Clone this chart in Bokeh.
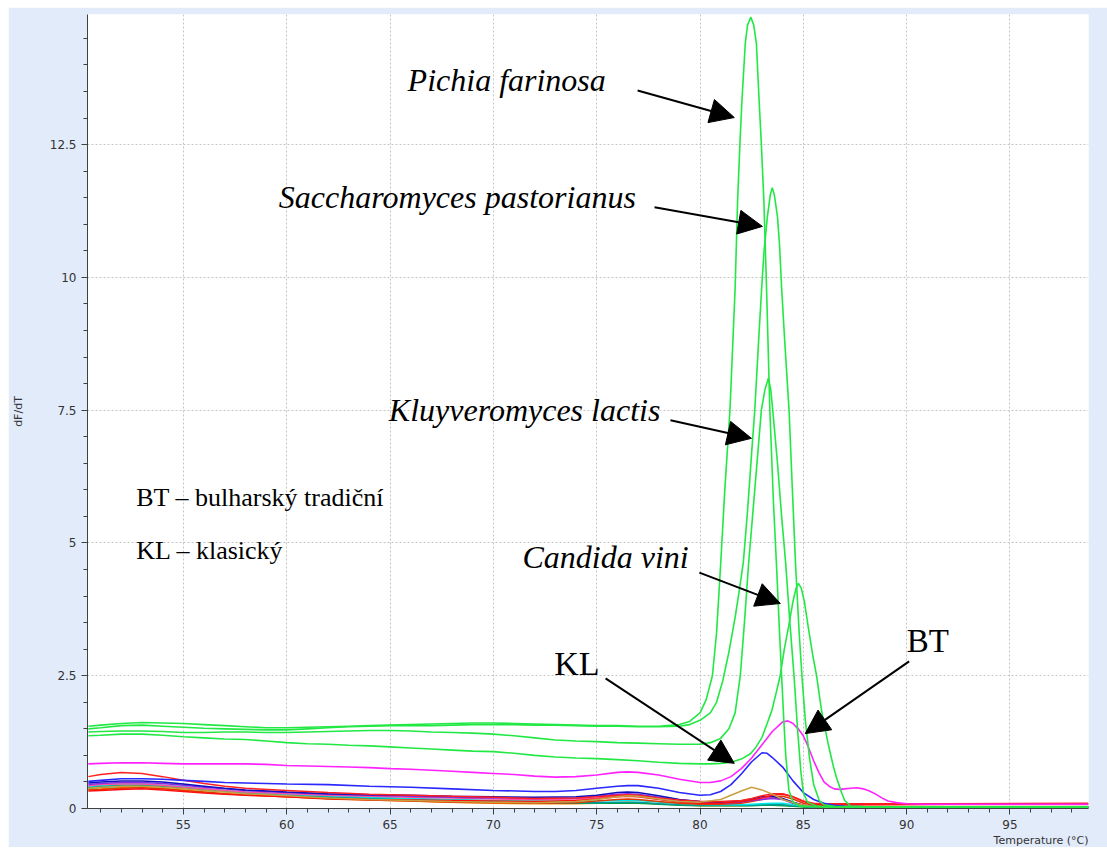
from bokeh.plotting import figure
from bokeh.models import (Range1d, FixedTicker, CustomJSTickFormatter, Label,
                          Arrow, NormalHead, Title, Spacer)
from bokeh.layouts import column, row
from bokeh.embed import file_html
from bokeh.resources import INLINE

# ---------------- melting curves (temperature in degC, dF/dT) ----------------

# Pichia farinosa
pichia_t = [50.4, 51, 52, 53, 54, 55, 56, 57, 58, 59, 60, 61, 62, 63, 64, 65, 66, 67, 68, 69,
            70, 71, 72, 73, 74, 75, 76, 77, 78, 79, 79.5, 80, 80.3, 80.6, 80.8, 81.0, 81.2,
            81.45, 81.7, 81.82, 81.93, 82.03, 82.19, 82.3, 82.46, 82.6, 82.73, 82.86, 82.97,
            83.09, 83.22, 83.38, 83.55, 83.7, 83.85, 83.95, 84.05, 84.15, 84.3, 84.5, 84.8,
            85.5, 88, 92, 98.8]
pichia_v = [1.55, 1.57, 1.60, 1.62, 1.61, 1.60, 1.58, 1.56, 1.54, 1.52, 1.52, 1.53, 1.54, 1.55,
            1.56, 1.57, 1.58, 1.59, 1.60, 1.61, 1.61, 1.60, 1.59, 1.58, 1.57, 1.56, 1.56, 1.55,
            1.55, 1.58, 1.64, 1.80, 2.05, 2.50, 3.30, 4.60, 6.00, 7.50, 9.80, 11.45, 12.50,
            13.33, 14.40, 14.75, 14.90, 14.75, 14.40, 13.33, 12.50, 11.45, 9.80, 7.50, 5.80,
            4.60, 3.30, 2.50, 1.70, 1.00, 0.35, 0.12, 0.05, 0.03, 0.03, 0.03, 0.03]

# Saccharomyces pastorianus
sacch_t = [50.4, 51, 52, 53, 54, 55, 56, 57, 58, 59, 60, 61, 62, 63, 64, 65, 66, 67, 68, 69,
           70, 71, 72, 73, 74, 75, 76, 77, 78, 79, 79.5, 80, 80.5, 80.8, 81.1, 81.4, 81.7,
           81.9, 82.1, 82.3, 82.5, 82.65, 82.85, 83.0, 83.1, 83.26, 83.4, 83.5, 83.6, 83.75,
           83.85, 83.95, 84.1, 84.31, 84.47, 84.63, 84.8, 84.95, 85.1, 85.3, 85.5, 85.77, 86.0,
           86.5, 88, 92, 98.8]
sacch_v = [1.50, 1.52, 1.56, 1.57, 1.55, 1.53, 1.51, 1.50, 1.49, 1.48, 1.48, 1.50, 1.52, 1.54,
           1.55, 1.56, 1.56, 1.56, 1.57, 1.58, 1.58, 1.58, 1.57, 1.57, 1.56, 1.55, 1.55, 1.54,
           1.54, 1.55, 1.58, 1.66, 1.80, 2.00, 2.40, 2.95, 3.60, 4.10, 4.65, 5.60, 6.70, 7.50,
           8.90, 9.90, 10.50, 11.14, 11.55, 11.69, 11.55, 11.14, 10.60, 9.80, 8.80, 7.50, 6.00,
           4.55, 3.30, 2.40, 1.65, 0.95, 0.45, 0.15, 0.07, 0.04, 0.03, 0.03, 0.03]

# Kluyveromyces lactis
kluyv_t = [50.4, 51, 52, 53, 54, 55, 56, 57, 58, 59, 60, 61, 62, 63, 64, 65, 66, 67, 68, 69,
           70, 71, 72, 73, 74, 75, 76, 77, 78, 79, 80, 80.5, 81.0, 81.4, 81.7, 81.95, 82.15,
           82.35, 82.65, 82.97, 83.15, 83.31, 83.42, 83.52, 83.75, 83.95, 84.15, 84.35, 84.55,
           84.72, 84.88, 85.0, 85.2, 85.6, 86, 88, 92, 98.8]
kluyv_v = [1.44, 1.45, 1.46, 1.46, 1.45, 1.43, 1.43, 1.44, 1.44, 1.43, 1.43, 1.44, 1.45, 1.46,
           1.47, 1.47, 1.46, 1.44, 1.43, 1.42, 1.40, 1.37, 1.33, 1.29, 1.27, 1.26, 1.24, 1.23,
           1.22, 1.21, 1.21, 1.24, 1.32, 1.50, 1.80, 2.50, 3.50, 4.60, 6.00, 7.50, 7.90, 8.10,
           7.90, 7.50, 6.50, 5.50, 4.60, 3.50, 2.50, 1.50, 0.70, 0.30, 0.12, 0.05, 0.03, 0.03,
           0.03, 0.03]

# Candida vini
candida_t = [50.4, 51, 52, 53, 54, 55, 56, 57, 58, 59, 60, 61, 62, 63, 64, 65, 66, 67, 68, 69,
             70, 71, 72, 73, 74, 75, 76, 77, 78, 79, 80, 80.5, 81, 81.5, 82.0, 82.44, 82.7,
             83.0, 83.25, 83.48, 83.7, 83.88, 84.08, 84.28, 84.5, 84.65, 84.76, 84.9, 85.05,
             85.24, 85.45, 85.64, 85.88, 86.2, 86.45, 86.6, 86.85, 87.0, 87.3, 88, 92, 98.8]
candida_v = [1.37, 1.38, 1.40, 1.40, 1.38, 1.35, 1.33, 1.31, 1.30, 1.27, 1.24, 1.22, 1.21,
             1.19, 1.18, 1.16, 1.14, 1.12, 1.10, 1.08, 1.07, 1.04, 1.00, 0.97, 0.95, 0.94,
             0.92, 0.90, 0.87, 0.85, 0.84, 0.84, 0.85, 0.87, 0.93, 1.03, 1.15, 1.34, 1.60,
             1.85, 2.20, 2.50, 3.00, 3.41, 3.90, 4.15, 4.24, 4.15, 3.90, 3.41, 2.90, 2.50,
             1.85, 1.22, 0.80, 0.59, 0.30, 0.15, 0.04, 0.03, 0.03, 0.03]

# BT sample (bulharsky tradicni)
bt_t = [50.4, 51, 52, 53, 54, 55, 56, 57, 58, 59, 60, 61, 62, 63, 64, 65, 66, 67, 68, 69, 70,
        71, 72, 73, 74, 75, 76, 76.5, 77, 78, 79, 80, 80.5, 81, 81.5, 82, 82.5, 83, 83.5, 84,
        84.25, 84.5, 84.75, 85, 85.25, 85.5, 85.75, 86, 86.25, 86.5, 86.75, 87, 87.3, 87.6,
        87.9, 88.2, 88.5, 88.8, 89.1, 89.5, 90, 91, 92, 94, 96, 98.8]
bt_v = [0.84, 0.85, 0.86, 0.86, 0.85, 0.84, 0.84, 0.84, 0.84, 0.83, 0.81, 0.80, 0.79, 0.78,
        0.77, 0.75, 0.74, 0.72, 0.70, 0.68, 0.66, 0.64, 0.61, 0.59, 0.60, 0.63, 0.68, 0.69,
        0.68, 0.63, 0.55, 0.49, 0.49, 0.52, 0.60, 0.75, 0.95, 1.20, 1.45, 1.63, 1.65, 1.60,
        1.50, 1.37, 1.15, 0.90, 0.68, 0.50, 0.42, 0.37, 0.36, 0.37, 0.38, 0.39, 0.37, 0.33,
        0.27, 0.20, 0.14, 0.11, 0.09, 0.08, 0.08, 0.08, 0.08, 0.08]

# KL sample (klasicky)
kl_t = [50.4, 51, 52, 53, 54, 55, 56, 57, 58, 59, 60, 62, 64, 65, 66, 68, 70, 72, 73, 74, 75,
        76, 76.5, 77, 78, 79, 80, 80.5, 81, 81.5, 82, 82.5, 83, 83.25, 83.5, 84, 84.5, 85,
        85.5, 86, 86.5, 87, 88, 92, 98.8]
kl_v = [0.51, 0.53, 0.56, 0.56, 0.55, 0.53, 0.51, 0.49, 0.48, 0.47, 0.46, 0.45, 0.42, 0.41,
        0.40, 0.37, 0.34, 0.32, 0.32, 0.34, 0.38, 0.42, 0.43, 0.43, 0.38, 0.30, 0.25, 0.26,
        0.32, 0.45, 0.65, 0.88, 1.05, 1.04, 0.96, 0.78, 0.52, 0.30, 0.17, 0.10, 0.06, 0.04,
        0.03, 0.03, 0.03]

# remaining low samples, all read on one temperature grid
low_t = [50.4, 51, 52, 53, 54, 55, 56, 57, 58, 60, 62, 64, 66, 68, 70, 72, 74, 75, 76, 76.5,
         77, 78, 79, 80, 81, 82, 82.5, 83, 83.5, 84, 84.5, 85, 85.5, 86, 88, 92, 98.8]
gold_v = [0.38, 0.40, 0.42, 0.42, 0.40, 0.37, 0.34, 0.31, 0.28, 0.24, 0.20, 0.17, 0.15, 0.13,
          0.12, 0.11, 0.13, 0.17, 0.22, 0.24, 0.23, 0.18, 0.13, 0.12, 0.17, 0.33, 0.40, 0.35,
          0.27, 0.17, 0.11, 0.06, 0.04, 0.03, 0.02, 0.02, 0.02]
red_a_v = [0.60, 0.64, 0.68, 0.66, 0.60, 0.53, 0.47, 0.42, 0.38, 0.34, 0.30, 0.27, 0.25, 0.23,
           0.21, 0.19, 0.20, 0.22, 0.25, 0.26, 0.25, 0.20, 0.16, 0.13, 0.13, 0.15, 0.19, 0.24,
           0.28, 0.28, 0.22, 0.14, 0.10, 0.09, 0.09, 0.09, 0.10]
red_b_v = [0.33, 0.34, 0.36, 0.37, 0.35, 0.32, 0.29, 0.27, 0.25, 0.22, 0.19, 0.17, 0.16, 0.15,
           0.14, 0.13, 0.15, 0.18, 0.22, 0.23, 0.22, 0.17, 0.12, 0.10, 0.10, 0.13, 0.16, 0.20,
           0.25, 0.27, 0.22, 0.13, 0.08, 0.07, 0.07, 0.08, 0.08]
red_c_v = [0.35, 0.36, 0.38, 0.39, 0.37, 0.34, 0.31, 0.28, 0.26, 0.22, 0.18, 0.16, 0.14, 0.12,
           0.11, 0.10, 0.11, 0.14, 0.17, 0.18, 0.17, 0.13, 0.10, 0.08, 0.08, 0.10, 0.13, 0.17,
           0.21, 0.23, 0.18, 0.10, 0.06, 0.05, 0.04, 0.04, 0.04]
navy_v = [0.48, 0.50, 0.52, 0.52, 0.50, 0.46, 0.42, 0.38, 0.35, 0.31, 0.28, 0.26, 0.25, 0.23,
          0.22, 0.21, 0.22, 0.25, 0.30, 0.31, 0.30, 0.24, 0.17, 0.13, 0.12, 0.14, 0.18, 0.22,
          0.23, 0.19, 0.12, 0.06, 0.04, 0.03, 0.02, 0.02, 0.02]
purple_v = [0.45, 0.47, 0.49, 0.49, 0.47, 0.44, 0.40, 0.37, 0.34, 0.30, 0.27, 0.25, 0.23, 0.21,
            0.20, 0.19, 0.20, 0.23, 0.27, 0.28, 0.27, 0.21, 0.15, 0.11, 0.10, 0.12, 0.15, 0.17,
            0.19, 0.17, 0.10, 0.05, 0.03, 0.03, 0.02, 0.02, 0.02]
cyan_v = [0.42, 0.44, 0.46, 0.46, 0.44, 0.41, 0.37, 0.34, 0.31, 0.27, 0.24, 0.21, 0.19, 0.17,
          0.15, 0.14, 0.13, 0.14, 0.15, 0.16, 0.15, 0.12, 0.10, 0.08, 0.07, 0.07, 0.08, 0.09,
          0.10, 0.10, 0.07, 0.05, 0.03, 0.03, 0.02, 0.02, 0.02]
teal_v = [0.40, 0.42, 0.44, 0.45, 0.43, 0.40, 0.36, 0.33, 0.30, 0.26, 0.22, 0.20, 0.18, 0.16,
          0.14, 0.12, 0.11, 0.11, 0.12, 0.12, 0.12, 0.09, 0.07, 0.06, 0.06, 0.06, 0.06, 0.07,
          0.07, 0.07, 0.05, 0.04, 0.03, 0.02, 0.02, 0.02, 0.02]
dkgreen_v = [0.38, 0.40, 0.42, 0.43, 0.42, 0.39, 0.35, 0.32, 0.29, 0.25, 0.21, 0.18, 0.16,
             0.14, 0.12, 0.11, 0.10, 0.10, 0.10, 0.10, 0.10, 0.08, 0.06, 0.05, 0.05, 0.05,
             0.05, 0.06, 0.06, 0.05, 0.04, 0.03, 0.02, 0.02, 0.02, 0.02, 0.02]
orange_v = [0.36, 0.37, 0.39, 0.40, 0.38, 0.35, 0.31, 0.28, 0.26, 0.22, 0.19, 0.16, 0.14, 0.12,
            0.10, 0.09, 0.09, 0.10, 0.11, 0.12, 0.11, 0.09, 0.07, 0.05, 0.05, 0.05, 0.06, 0.07,
            0.08, 0.08, 0.06, 0.04, 0.03, 0.02, 0.02, 0.02, 0.02]
pink_v = [0.43, 0.45, 0.46, 0.46, 0.44, 0.40, 0.37, 0.34, 0.31, 0.28, 0.25, 0.23, 0.21, 0.20,
          0.18, 0.17, 0.18, 0.20, 0.24, 0.25, 0.24, 0.20, 0.16, 0.13, 0.12, 0.13, 0.16, 0.19,
          0.21, 0.18, 0.12, 0.06, 0.04, 0.03, 0.03, 0.03, 0.03]

x_major = [55, 60, 65, 70, 75, 80, 85, 90, 95]
y_major = [0, 2.5, 5, 7.5, 10, 12.5]

PANEL = "#E2EBFA"
GREEN = "#22E844"

p = figure(width=1099, height=840, output_backend="svg", toolbar_location=None,
           x_range=Range1d(50.36, 98.8), y_range=Range1d(0, 14.95),
           min_border_left=76, min_border_right=19, min_border_top=7, min_border_bottom=39,
           background_fill_color="white", border_fill_color=PANEL)
p.outline_line_color = None

# axes
p.xaxis.ticker = FixedTicker(ticks=x_major, minor_ticks=list(range(51, 99)))
p.yaxis.ticker = FixedTicker(ticks=y_major, minor_ticks=[i * 0.5 for i in range(0, 30)])
p.yaxis.formatter = CustomJSTickFormatter(code="return String(tick);")
for ax in (p.xaxis, p.yaxis):
    ax.axis_line_color = "#404040"
    ax.major_tick_line_color = "#404040"
    ax.minor_tick_line_color = "#404040"
    ax.major_tick_in = 0
    ax.minor_tick_in = 0
    ax.major_tick_out = 6
    ax.minor_tick_out = 4
    ax.major_label_text_font = "DejaVu Sans"
    ax.major_label_text_font_size = "12px"
    ax.major_label_text_color = "#333333"
    ax.major_label_standoff = 5
p.yaxis.axis_label = "dF/dT"
p.yaxis.axis_label_text_font = "DejaVu Sans"
p.yaxis.axis_label_text_font_size = "11px"
p.yaxis.axis_label_text_font_style = "normal"
p.yaxis.axis_label_text_color = "#333333"
p.yaxis.axis_label_standoff = 22

p.add_layout(Title(text="Temperature (°C)", align="right", text_font="DejaVu Sans",
                   text_font_size="11px", text_font_style="normal",
                   text_color="#333333", standoff=0), "below")

# grid
p.xgrid.ticker = FixedTicker(ticks=x_major)
p.ygrid.ticker = FixedTicker(ticks=y_major[1:])
for g in (p.xgrid, p.ygrid):
    g.grid_line_color = "#C4C4C4"
    g.grid_line_dash = "2 2"
    g.grid_line_width = 1

# low samples first, then the labelled ones on top
low_series = [
    (orange_v, "#FF8C00"), (dkgreen_v, "#00A040"), (teal_v, "#009999"),
    (cyan_v, "#00E5E5"), (red_c_v, "#E03A00"), (pink_v, "#FF4FA0"),
    (purple_v, "#8A2BE2"), (navy_v, "#1010C0"), (red_b_v, "#FF1010"),
    (red_a_v, "#FF2020"), (gold_v, "#C9A040"),
]
for vals, col in low_series:
    p.line(low_t, vals, line_color=col, line_width=1.5)

p.line(kl_t, kl_v, line_color="#2828FF", line_width=1.6)
p.line(bt_t, bt_v, line_color="#FF22FF", line_width=1.6)
for t, v in ((candida_t, candida_v), (kluyv_t, kluyv_v), (sacch_t, sacch_v), (pichia_t, pichia_v)):
    p.line(t, v, line_color=GREEN, line_width=1.6)

# species labels with arrows
SERIF = "Liberation Serif"
labels = [
    ("Pichia farinosa", 65.85, 13.71, "italic", "32px"),
    ("Saccharomyces pastorianus", 59.62, 11.51, "italic", "32px"),
    ("Kluyveromyces lactis", 64.94, 7.50, "italic", "32px"),
    ("Candida vini", 71.41, 4.73, "italic", "32px"),
    ("KL", 72.95, 2.73, "normal", "34px"),
    ("BT", 90.0, 3.16, "normal", "33px"),
    ("BT – bulharský tradiční", 52.72, 5.86, "normal", "26px"),
    ("KL – klasický", 52.72, 4.86, "normal", "26px"),
]
for txt, x, y, style, size in labels:
    p.add_layout(Label(x=x, y=y, text=txt, text_font=SERIF, text_font_style=style,
                       text_font_size=size, text_color="black", text_baseline="middle",
                       text_align="left"))

arrows = [
    (76.98, 13.52, 81.66, 13.01),
    (77.80, 11.32, 83.02, 10.96),
    (78.57, 7.31, 82.49, 6.97),
    (79.97, 4.44, 83.89, 3.86),
    (75.43, 2.45, 81.66, 0.85),
    (90.12, 2.77, 85.09, 1.41),
]
for xs, ys, xe, ye in arrows:
    p.add_layout(Arrow(x_start=xs, y_start=ys, x_end=xe, y_end=ye, line_color="black",
                       line_width=2,
                       end=NormalHead(size=24, fill_color="black", line_color="black")))

layout = column(Spacer(height=7), row(Spacer(width=8), p))

open("out.html", "w").write(file_html(layout, INLINE))
